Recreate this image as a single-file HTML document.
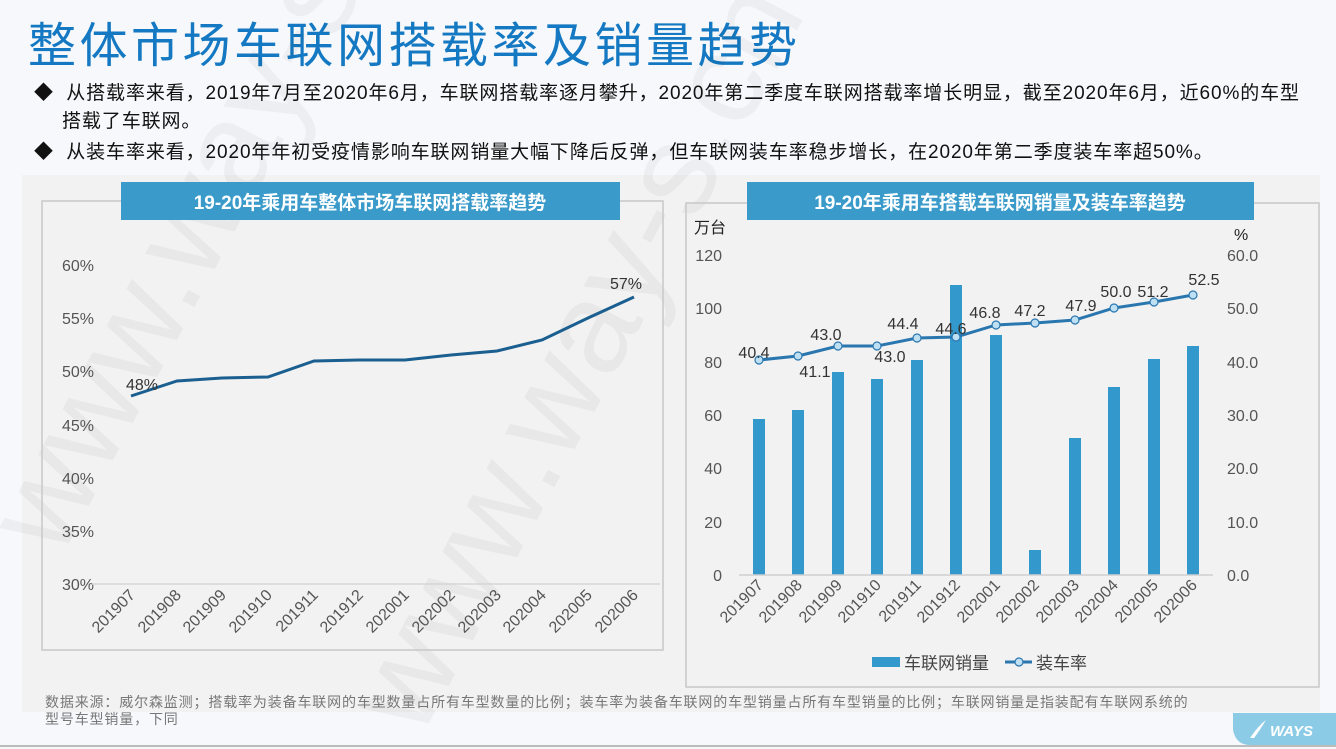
<!DOCTYPE html>
<html><head><meta charset="utf-8"><style>
body{margin:0;width:1336px;height:749px;background:#f7f8fb;overflow:hidden;position:relative;font-family:"Liberation Sans","Noto Sans CJK SC",sans-serif}
.t{position:absolute;left:28px;top:6px;font-size:48px;color:#1479c2;letter-spacing:3.5px;white-space:nowrap}
.b{position:absolute;left:34px;font-size:19px;color:#111;white-space:nowrap;letter-spacing:0.9px}
</style></head><body>
<div class="t">整体市场车联网搭载率及销量趋势</div>
<div class="b" style="top:78px">◆&nbsp; 从搭载率来看，2019年7月至2020年6月，车联网搭载率逐月攀升，2020年第二季度车联网搭载率增长明显，截至2020年6月，近60%的车型</div>
<div class="b" style="top:106px;left:62px">搭载了车联网。</div>
<div class="b" style="top:137px">◆&nbsp; 从装车率来看，2020年年初受疫情影响车联网销量大幅下降后反弹，但车联网装车率稳步增长，在2020年第二季度装车率超50%。</div>
<svg width="1336" height="749" style="position:absolute;left:0;top:0" font-family="Liberation Sans, Noto Sans CJK SC, sans-serif">
<rect x="22" y="175" width="1298" height="537" fill="#f2f2f2"/>
<line x1="0" y1="746" x2="1336" y2="746" stroke="#bbb" stroke-width="2"/>
<path d="M1233 713 H1336 V745 H1250 Q1236 745 1233 730 Z" fill="#8ccbe6"/>
<text x="1270" y="736" font-size="15" font-weight="bold" fill="#fff" font-style="italic">WAYS</text>
<path d="M1250 738 Q1258 726 1266 720 Q1260 730 1254 738 Z" fill="#fff"/>
<g font-size="130" fill="#000" opacity="0.035">
<text transform="translate(60,560) rotate(-62)">www.way-s.cn</text>
<text transform="translate(420,740) rotate(-62)">www.way-s.cn</text>
</g>
<!-- left chart -->
<rect x="42" y="201" width="621" height="449" fill="none" stroke="#c8c8c8" stroke-width="1.5"/>
<rect x="121" y="182" width="499" height="38" fill="#3a9bcb"/>
<text x="370" y="209" font-size="19" font-weight="bold" fill="#fff" text-anchor="middle">19-20年乘用车整体市场车联网搭载率趋势</text>
<g font-size="16" fill="#555" text-anchor="end">
<text x="94" y="271">60%</text><text x="94" y="324">55%</text><text x="94" y="377">50%</text><text x="94" y="431">45%</text><text x="94" y="484">40%</text><text x="94" y="537">35%</text><text x="94" y="590">30%</text>
</g>
<line x1="92" y1="584" x2="660" y2="584" stroke="#d6d6d6" stroke-width="1.5"/>
<polyline fill="none" stroke="#1a5f8f" stroke-width="3" points="131,396 177,381 222,378 268,377 314,361 359,360 405,360 451,355 497,351 542,340 588,318 634,297"/>
<text x="126" y="390" font-size="16" fill="#333">48%</text>
<text x="610" y="289" font-size="16" fill="#333">57%</text>
<g font-size="16" fill="#555" text-anchor="end">
<text transform="translate(136,596) rotate(-45)">201907</text>
<text transform="translate(182,596) rotate(-45)">201908</text>
<text transform="translate(227,596) rotate(-45)">201909</text>
<text transform="translate(273,596) rotate(-45)">201910</text>
<text transform="translate(319,596) rotate(-45)">201911</text>
<text transform="translate(364,596) rotate(-45)">201912</text>
<text transform="translate(410,596) rotate(-45)">202001</text>
<text transform="translate(456,596) rotate(-45)">202002</text>
<text transform="translate(502,596) rotate(-45)">202003</text>
<text transform="translate(547,596) rotate(-45)">202004</text>
<text transform="translate(593,596) rotate(-45)">202005</text>
<text transform="translate(639,596) rotate(-45)">202006</text>
</g>
<!-- right chart -->
<rect x="686" y="203" width="633" height="484" fill="none" stroke="#c8c8c8" stroke-width="1.5"/>
<rect x="747" y="182" width="507" height="38" fill="#3a9bcb"/>
<text x="1000" y="209" font-size="19" font-weight="bold" fill="#fff" text-anchor="middle">19-20年乘用车搭载车联网销量及装车率趋势</text>
<text x="694" y="233" font-size="16" fill="#222">万台</text>
<text x="1234" y="240" font-size="16" fill="#222">%</text>
<g font-size="16" fill="#555" text-anchor="end">
<text x="722" y="261">120</text><text x="722" y="314">100</text><text x="722" y="368">80</text><text x="722" y="421">60</text><text x="722" y="474">40</text><text x="722" y="528">20</text><text x="722" y="581">0</text>
</g>
<g font-size="16" fill="#555">
<text x="1227" y="261">60.0</text><text x="1227" y="314">50.0</text><text x="1227" y="368">40.0</text><text x="1227" y="421">30.0</text><text x="1227" y="474">20.0</text><text x="1227" y="528">10.0</text><text x="1227" y="581">0.0</text>
</g>
<g fill="#3399cc">
<rect x="753" y="419" width="12" height="156"/>
<rect x="792" y="410" width="12" height="165"/>
<rect x="832" y="372" width="12" height="203"/>
<rect x="871" y="379" width="12" height="196"/>
<rect x="911" y="360" width="12" height="215"/>
<rect x="950" y="285" width="12" height="290"/>
<rect x="990" y="335" width="12" height="240"/>
<rect x="1029" y="550" width="12" height="25"/>
<rect x="1069" y="438" width="12" height="137"/>
<rect x="1108" y="387" width="12" height="188"/>
<rect x="1148" y="359" width="12" height="216"/>
<rect x="1187" y="346" width="12" height="229"/>
</g>
<line x1="739" y1="575" x2="1213" y2="575" stroke="#d0d0d0" stroke-width="1.5"/>
<polyline fill="none" stroke="#2a77b0" stroke-width="3" points="759,360 798,356 838,346 877,346 917,338 956,337 996,325 1035,323 1075,320 1114,308 1154,302 1193,295"/>
<g fill="#bfe0f2" stroke="#2a77b0" stroke-width="1.2">
<circle cx="759" cy="360" r="4"/><circle cx="798" cy="356" r="4"/><circle cx="838" cy="346" r="4"/><circle cx="877" cy="346" r="4"/><circle cx="917" cy="338" r="4"/><circle cx="956" cy="337" r="4"/><circle cx="996" cy="325" r="4"/><circle cx="1035" cy="323" r="4"/><circle cx="1075" cy="320" r="4"/><circle cx="1114" cy="308" r="4"/><circle cx="1154" cy="302" r="4"/><circle cx="1193" cy="295" r="4"/>
</g>
<g font-size="16" fill="#333" text-anchor="middle">
<text x="754" y="358">40.4</text><text x="815" y="377">41.1</text><text x="826" y="340">43.0</text><text x="890" y="362">43.0</text><text x="903" y="329">44.4</text><text x="951" y="334">44.6</text><text x="985" y="318">46.8</text><text x="1030" y="316">47.2</text><text x="1081" y="311">47.9</text><text x="1116" y="297">50.0</text><text x="1153" y="297">51.2</text><text x="1204" y="285">52.5</text>
</g>
<g font-size="16" fill="#555" text-anchor="end">
<text transform="translate(764,586) rotate(-45)">201907</text>
<text transform="translate(803,586) rotate(-45)">201908</text>
<text transform="translate(843,586) rotate(-45)">201909</text>
<text transform="translate(882,586) rotate(-45)">201910</text>
<text transform="translate(922,586) rotate(-45)">201911</text>
<text transform="translate(961,586) rotate(-45)">201912</text>
<text transform="translate(1001,586) rotate(-45)">202001</text>
<text transform="translate(1040,586) rotate(-45)">202002</text>
<text transform="translate(1080,586) rotate(-45)">202003</text>
<text transform="translate(1119,586) rotate(-45)">202004</text>
<text transform="translate(1159,586) rotate(-45)">202005</text>
<text transform="translate(1198,586) rotate(-45)">202006</text>
</g>
<rect x="872" y="657" width="28" height="10" fill="#3399cc"/>
<text x="904" y="669" font-size="17" fill="#444">车联网销量</text>
<line x1="1005" y1="662" x2="1032" y2="662" stroke="#2a77b0" stroke-width="3"/>
<circle cx="1019" cy="662" r="4" fill="#bfe0f2" stroke="#2a77b0" stroke-width="1.2"/>
<text x="1036" y="669" font-size="17" fill="#444">装车率</text>
<g font-size="14" fill="#777" letter-spacing="0.85">
<text x="45" y="707">数据来源：威尔森监测；搭载率为装备车联网的车型数量占所有车型数量的比例；装车率为装备车联网的车型销量占所有车型销量的比例；车联网销量是指装配有车联网系统的</text>
<text x="45" y="724">型号车型销量，下同</text>
</g>
</svg>
</body></html>
